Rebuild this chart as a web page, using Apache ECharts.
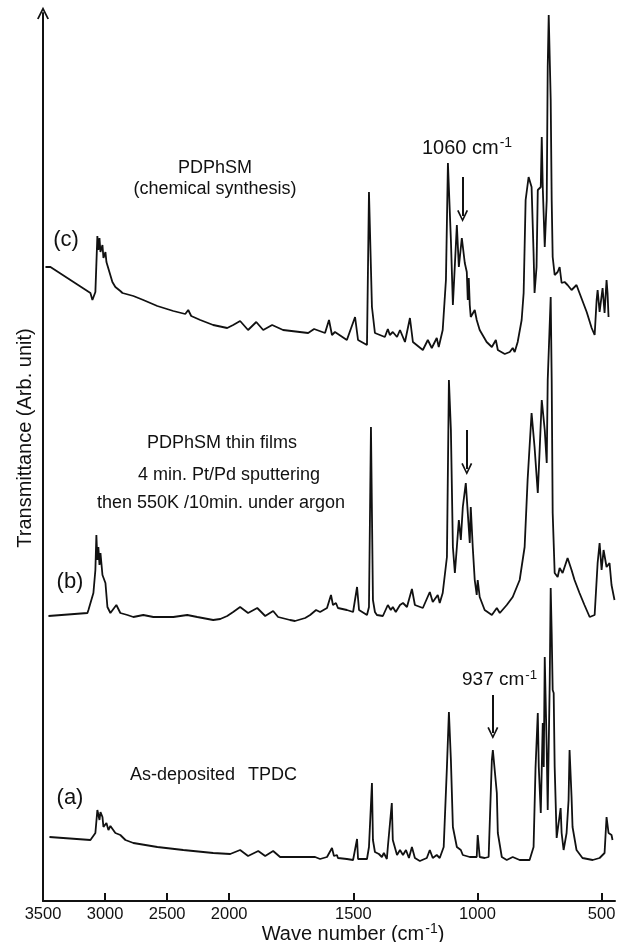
<!doctype html>
<html lang="en">
  <head>
    <meta charset="UTF-8" />
    <title>IR spectra PDPhSM / TPDC</title>
    <style>
      html,
      body {
        width: 100%;
        height: 100%;
        margin: 0;
        padding: 0;
        background: #fff;
      }
      #Echart {
        width: 618px;
        height: 942px;
      }
    </style>
  </head>

  <body>
    <div id="Echart"></div>
    <script type="text/javascript" src="https://cdn.jsdelivr.net/npm/echarts@6/dist/echarts.min.js"></script>
    <script type="text/javascript">
      // wave numbers (cm-1) and transmittance (arb. unit)
      const waveC = [3480, 3440, 3118, 3102, 3078, 3062, 3054, 3045, 3037, 3021, 3013, 2997, 2989, 2973, 2941, 2917, 2901, 2877, 2860, 2772, 2692, 2579, 2450, 2354, 2330, 2306, 2233, 2129, 2016, 1984, 1956, 1924, 1891, 1863, 1827, 1783, 1682, 1658, 1614, 1598, 1586, 1574, 1526, 1493, 1481, 1445, 1437, 1425, 1413, 1373, 1361, 1353, 1341, 1324, 1312, 1292, 1272, 1260, 1220, 1200, 1184, 1164, 1156, 1140, 1127, 1119, 1107, 1099, 1083, 1075, 1063, 1051, 1043, 1039, 1035, 1031, 1027, 1011, 1003, 991, 963, 942, 926, 918, 890, 870, 858, 850, 838, 822, 814, 806, 794, 782, 774, 770, 762, 757, 745, 741, 737, 729, 721, 717, 713, 705, 701, 697, 689, 677, 669, 661, 649, 637, 621, 601, 593, 589, 560, 540, 528, 520, 516, 508, 496, 488, 480, 476, 472]
      const transC = [634, 634, 608, 601, 609, 665, 651, 663, 649, 656, 643, 649, 639, 638, 619, 614, 616, 610, 608, 605, 601, 595, 590, 587, 591, 585, 581, 576, 573, 576, 580, 571, 579, 571, 576, 571, 568, 572, 568, 581, 566, 569, 561, 584, 561, 556, 709, 594, 568, 564, 572, 566, 569, 564, 571, 559, 583, 559, 551, 561, 553, 563, 554, 571, 621, 738, 661, 596, 676, 634, 663, 638, 629, 601, 623, 596, 584, 591, 581, 571, 559, 554, 561, 551, 547, 549, 553, 549, 559, 581, 608, 701, 724, 714, 648, 608, 634, 711, 714, 764, 714, 654, 701, 834, 886, 801, 701, 644, 626, 629, 634, 618, 619, 616, 611, 616, 618, 608, 589, 573, 566, 601, 611, 589, 613, 588, 621, 608, 584]

      const waveB = [3456, 3142, 3134, 3118, 3094, 3078, 3070, 3062, 3054, 3045, 3037, 3021, 2997, 2981, 2957, 2941, 2909, 2877, 2820, 2772, 2692, 2611, 2450, 2338, 2257, 2129, 2072, 2016, 1984, 1956, 1924, 1887, 1855, 1823, 1803, 1755, 1735, 1694, 1674, 1650, 1634, 1606, 1590, 1582, 1570, 1562, 1526, 1501, 1485, 1477, 1445, 1437, 1429, 1421, 1413, 1405, 1381, 1361, 1349, 1341, 1329, 1312, 1300, 1284, 1264, 1252, 1220, 1192, 1180, 1160, 1152, 1140, 1123, 1115, 1107, 1099, 1091, 1083, 1075, 1067, 1059, 1047, 1039, 1031, 1027, 1019, 1011, 1003, 999, 991, 971, 942, 922, 910, 882, 858, 830, 810, 798, 782, 770, 757, 749, 741, 729, 721, 717, 705, 701, 697, 689, 677, 669, 657, 637, 621, 609, 589, 569, 548, 528, 516, 508, 500, 492, 480, 468, 460, 448]
      const transB = [285, 288, 291, 289, 308, 331, 366, 341, 354, 336, 348, 326, 318, 294, 288, 288, 296, 288, 286, 284, 286, 284, 284, 286, 284, 281, 282, 285, 289, 294, 288, 293, 285, 290, 284, 281, 280, 283, 286, 291, 289, 293, 306, 296, 298, 293, 291, 289, 314, 291, 286, 294, 474, 301, 289, 286, 285, 296, 291, 294, 289, 296, 298, 294, 312, 296, 293, 309, 299, 306, 298, 308, 344, 521, 471, 354, 328, 354, 381, 361, 394, 418, 388, 358, 394, 354, 321, 306, 321, 304, 291, 286, 293, 288, 296, 304, 321, 354, 421, 488, 454, 408, 454, 501, 471, 438, 521, 604, 521, 388, 328, 324, 333, 328, 343, 331, 321, 308, 296, 284, 286, 338, 358, 331, 351, 334, 338, 316, 301]

      const waveA = [3448, 3118, 3078, 3062, 3045, 3037, 3021, 3013, 2989, 2973, 2957, 2941, 2917, 2877, 2836, 2772, 2579, 2370, 2129, 1996, 1956, 1924, 1883, 1855, 1823, 1795, 1715, 1654, 1634, 1606, 1586, 1578, 1566, 1562, 1526, 1501, 1485, 1481, 1445, 1437, 1425, 1421, 1413, 1397, 1385, 1377, 1365, 1361, 1345, 1341, 1324, 1312, 1300, 1288, 1276, 1264, 1252, 1232, 1204, 1192, 1180, 1164, 1152, 1136, 1123, 1115, 1107, 1099, 1083, 1067, 1059, 1031, 1003, 999, 991, 971, 955, 942, 938, 930, 922, 918, 902, 882, 858, 830, 790, 774, 766, 757, 753, 745, 737, 733, 729, 721, 717, 709, 705, 701, 697, 693, 689, 681, 673, 665, 661, 653, 641, 633, 629, 621, 617, 601, 577, 536, 508, 488, 480, 472, 460, 456]
      const transA = [64, 61, 68, 91, 81, 89, 84, 74, 78, 71, 75, 73, 68, 66, 61, 58, 54, 51, 48, 47, 51, 45, 50, 45, 50, 44, 44, 44, 42, 44, 53, 45, 46, 43, 42, 41, 62, 42, 42, 54, 118, 61, 49, 47, 44, 48, 42, 54, 98, 61, 46, 51, 46, 51, 43, 54, 43, 40, 43, 51, 43, 46, 43, 54, 134, 189, 141, 74, 54, 51, 46, 44, 44, 66, 44, 43, 44, 141, 151, 149, 108, 68, 44, 41, 44, 41, 41, 54, 134, 188, 134, 88, 178, 134, 244, 151, 91, 218, 313, 268, 211, 208, 134, 63, 61, 93, 68, 51, 68, 101, 151, 104, 74, 51, 43, 41, 43, 48, 84, 68, 66, 61]

      const tickWaves = [3500, 3000, 2500, 2000, 1500, 1000, 500]

      // the spectrometer halves the scale above 2000 cm-1
      const toAxis = (w) => (w > 2000 ? 2000 + (w - 2000) / 2 : w)
      const fromAxis = (t) => (t > 2000 ? 2000 + (t - 2000) * 2 : t)

      const openArrow = 'path://M0,10 L5,0 L10,10 L8.6,10.6 L5,3.2 L1.4,10.6 Z'
      const font = 'Liberation Sans, Arial, Helvetica, sans-serif'

      let chart = null

      const makeSeries = (name, waves, trans, arrow) => {
        const s = {
          name: name,
          type: 'line',
          showSymbol: false,
          silent: true,
          data: waves.map((w, i) => [toAxis(w), trans[i]]),
          lineStyle: { color: '#111', width: 1.8 },
        }
        if (arrow) {
          s.markLine = {
            silent: true,
            symbol: ['none', openArrow],
            symbolSize: [11, 12],
            label: { show: false },
            lineStyle: { color: '#111', width: 2, type: 'solid' },
            data: [[{ coord: [toAxis(arrow[0]), arrow[1]] }, { coord: [toAxis(arrow[0]), arrow[2]] }]],
          }
        }
        return s
      }

      const txt = (text, x, y, size, align) => ({
        type: 'text',
        x: x,
        y: y,
        style: {
          text: text,
          fill: '#111',
          font: size + 'px ' + font,
          align: align || 'center',
          verticalAlign: 'middle',
          rich: { s: { fontSize: size * 0.7, verticalAlign: 'top', padding: [0, 0, 9, 1], fill: '#111', fontFamily: font } },
        },
      })

      function initEchart() {
        const option = {
          animation: false,
          backgroundColor: '#fff',
          grid: { left: 43, right: 3, top: 13, bottom: 41, containLabel: false, outerBoundsMode: 'none' },
          xAxis: {
            type: 'value',
            inverse: true,
            min: 446,
            max: 2750,
            splitLine: { show: false },
            axisLine: { onZero: false, lineStyle: { color: '#111', width: 2 } },
            axisTick: {
              inside: true,
              length: 8,
              customValues: tickWaves.map(toAxis),
              lineStyle: { color: '#111', width: 2 },
            },
            axisLabel: {
              customValues: tickWaves.map(toAxis),
              formatter: (v) => String(Math.round(fromAxis(v))),
              margin: 5,
              color: '#111',
              fontSize: 16.5,
              fontFamily: font,
            },
          },
          yAxis: {
            type: 'value',
            min: 0,
            max: 888,
            splitLine: { show: false },
            axisTick: { show: false },
            axisLabel: { show: false },
            axisLine: {
              show: true,
              onZero: false,
              symbol: ['none', openArrow],
              symbolSize: [12, 14],
              lineStyle: { color: '#111', width: 2 },
            },
          },
          graphic: [
            txt('PDPhSM', 215, 168, 18),
            txt('(chemical synthesis)', 215, 189, 18),
            txt('(c)', 66, 240, 22),
            txt('1060 cm{s|-1}', 422, 148, 20, 'left'),
            txt('PDPhSM thin films', 222, 443, 18),
            txt('4 min. Pt/Pd sputtering', 229, 475, 18),
            txt('then 550K /10min. under argon', 221, 503, 18),
            txt('(b)', 70, 582, 22),
            txt('937 cm{s|-1}', 462, 680, 19, 'left'),
            txt('As-deposited', 130, 775, 18, 'left'),
            txt('TPDC', 248, 775, 18, 'left'),
            txt('(a)', 70, 798, 22),
            txt('Wave number (cm{s|-1})', 353, 934, 20),
            {
              type: 'text',
              x: 25,
              y: 438,
              rotation: Math.PI / 2,
              style: {
                text: 'Transmittance (Arb. unit)',
                fill: '#111',
                font: '20px ' + font,
                align: 'center',
                verticalAlign: 'middle',
              },
            },
          ],
          series: [
            makeSeries('c', waveC, transC, [1060, 724, 685]),
            makeSeries('b', waveB, transB, [1043, 471, 432]),
            makeSeries('a', waveA, transA, [938, 206, 168]),
          ],
        }
        chart = echarts.init(document.getElementById('Echart'))
        chart.setOption(option)
      }

      window.onload = function () {
        initEchart()
      }
    </script>
  </body>
</html>
